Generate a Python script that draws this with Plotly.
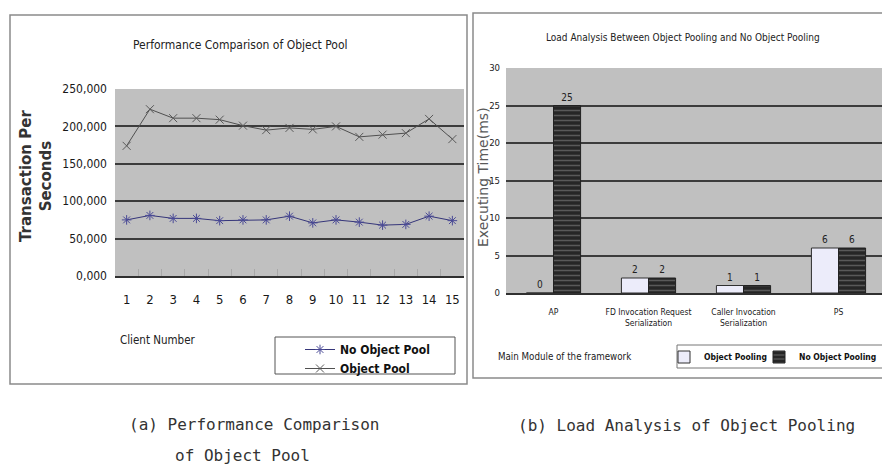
import plotly.graph_objects as go

W, H = 882, 467

# ---- data: chart (a) ----
clients = [str(i) for i in range(1, 16)]
no_object_pool = [75000, 81000, 77000, 77000, 74000, 75000, 75000, 80000, 71000, 75000, 72000, 68000, 69000, 80000, 74000]
object_pool = [174000, 223000, 211000, 211000, 209000, 201000, 195000, 198000, 196000, 200000, 186000, 189000, 191000, 210000, 183000]
y_tickvals = [0, 50000, 100000, 150000, 200000, 250000]
y_ticktext = ["0,000", "50,000", "100,000", "150,000", "200,000", "250,000"]

# ---- data: chart (b) ----
modules = ["AP", "FD Invocation Request<br>Serialization", "Caller Invocation<br>Serialization", "PS"]
object_pooling = [0, 2, 1, 6]
no_object_pooling = [25, 2, 1, 6]
y2_tickvals = [0, 5, 10, 15, 20, 25, 30]


def px(x):
    return x / W


def py(y):
    return 1 - y / H


NARROW = "Liberation Sans Narrow, DejaVu Sans Condensed, Liberation Sans, Arial, sans-serif"
WIDE_BOLD = "DejaVu Sans, Verdana, sans-serif"
CAPTION = "DejaVu Sans Mono, monospace"
PLOT_BG = "#c0c0c0"
GRID = "#3c3c3c"

fig = go.Figure()

fig.add_trace(go.Scatter(
    x=clients, y=no_object_pool, name="No Object Pool", mode="lines+markers",
    xaxis="x", yaxis="y", legend="legend",
    line=dict(color="#36367a", width=1),
    marker=dict(symbol="asterisk-open", size=8, color="#4a4a96",
                line=dict(color="#4a4a96", width=1)),
))
fig.add_trace(go.Scatter(
    x=clients, y=object_pool, name="Object Pool", mode="lines+markers",
    xaxis="x", yaxis="y", legend="legend",
    line=dict(color="#505050", width=1),
    marker=dict(symbol="x-thin-open", size=8, color="#5a5a5a",
                line=dict(color="#5a5a5a", width=1)),
))

fig.add_trace(go.Bar(
    x=modules, y=object_pooling, name="Object Pooling",
    xaxis="x2", yaxis="y2", legend="legend2",
    marker=dict(color="#ececfa", line=dict(color="#303030", width=1)),
    text=[str(v) for v in object_pooling], textposition="outside",
    textfont=dict(family=NARROW, size=10, color="#222"), cliponaxis=False,
))
fig.add_trace(go.Bar(
    x=modules, y=no_object_pooling, name="No Object Pooling",
    xaxis="x2", yaxis="y2", legend="legend3",
    marker=dict(color="#262626",
                pattern=dict(shape="-", fgcolor="#8c8c8c", bgcolor="#262626", size=5, solidity=0.3),
                line=dict(color="#222", width=1)),
    text=[str(v) for v in no_object_pooling], textposition="outside",
    textfont=dict(family=NARROW, size=10, color="#222"), cliponaxis=False,
))

band = 95.0

fig.update_layout(
    width=W, height=H,
    margin=dict(l=0, r=0, t=0, b=0, autoexpand=False),
    paper_bgcolor="white",
    plot_bgcolor=PLOT_BG,
    barmode="group", bargap=0.43, bargroupgap=0,
    xaxis=dict(domain=[px(115), px(464)], type="category", range=[-0.5, 14.5],
               showgrid=False, showline=True, linecolor="#303030", linewidth=1.5,
               ticks="inside", tickson="boundaries", ticklen=7, tickcolor="#a8a8a8",
               tickangle=0,
               tickfont=dict(family=NARROW, size=13, color="#181818"),
               ticklabelstandoff=11, anchor="y", fixedrange=True),
    yaxis=dict(domain=[py(276), py(89)], range=[0, 250000],
               tickvals=y_tickvals, ticktext=y_ticktext,
               showgrid=True, gridcolor=GRID, gridwidth=1.5, zeroline=False,
               showline=False, ticks="",
               tickfont=dict(family=NARROW, size=12, color="#181818"),
               ticklabelstandoff=7, anchor="x", fixedrange=True),
    xaxis2=dict(domain=[px(506), 1.0], type="category",
                range=[-0.5, -0.5 + (882 - 506) / band],
                showgrid=False, showline=True, linecolor="#303030", linewidth=1.5,
                ticks="", tickangle=0,
                tickfont=dict(family=NARROW, size=8.5, color="#202020"),
                ticklabelstandoff=10, anchor="y2", fixedrange=True),
    yaxis2=dict(domain=[py(293), py(68)], range=[0, 30],
                tickvals=y2_tickvals,
                showgrid=True, gridcolor=GRID, gridwidth=1.5, zeroline=False,
                showline=False, ticks="",
                tickfont=dict(family=NARROW, size=9.5, color="#202020"),
                ticklabelstandoff=5, anchor="x2", fixedrange=True),
    legend=dict(x=px(300), y=py(335), xanchor="left", yanchor="top",
                bgcolor="rgba(0,0,0,0)", borderwidth=0, tracegroupgap=0,
                font=dict(family=NARROW, size=12, color="#111", weight="bold"),
                itemwidth=30),
    legend2=dict(x=px(664), y=py(357), xanchor="left", yanchor="middle",
                 orientation="h", bgcolor="rgba(0,0,0,0)", borderwidth=0,
                 font=dict(family=NARROW, size=8.5, color="#111", weight="bold"),
                 itemwidth=30),
    legend3=dict(x=1.0, y=py(357), xanchor="right", yanchor="middle",
                 orientation="h", bgcolor="rgba(0,0,0,0)", borderwidth=0,
                 font=dict(family=NARROW, size=8.5, color="#111", weight="bold"),
                 itemwidth=30),
    showlegend=True,
)

shapes = [
    # panel borders
    dict(type="rect", xref="paper", yref="paper", x0=px(10), x1=px(467), y0=py(384), y1=py(15),
         line=dict(color="#8a8a8a", width=1.5), fillcolor="rgba(0,0,0,0)", layer="below"),
    dict(type="rect", xref="paper", yref="paper", x0=px(473), x1=px(900), y0=py(378), y1=py(13),
         line=dict(color="#8a8a8a", width=1.5), fillcolor="rgba(0,0,0,0)", layer="below"),
    # legend boxes
    dict(type="rect", xref="paper", yref="paper", x0=px(275), x1=px(455), y0=py(374), y1=py(337),
         line=dict(color="#555", width=1), fillcolor="white", layer="below"),
    dict(type="rect", xref="paper", yref="paper", x0=px(677), x1=px(900), y0=py(368), y1=py(345),
         line=dict(color="#777", width=1), fillcolor="white", layer="below"),
]
fig.update_layout(shapes=shapes)

ann = [
    dict(text="Performance Comparison of Object Pool", x=px(240), y=py(45),
         font=dict(family=NARROW, size=12, color="#222")),
    dict(text="Transaction Per<br>Seconds", x=px(36), y=py(176), textangle=-90,
         font=dict(family=WIDE_BOLD, size=15, color="#333", weight="bold")),
    dict(text="Client Number", x=px(118), y=py(340), xanchor="left",
         font=dict(family=NARROW, size=11.5, color="#222")),
    dict(text="Load Analysis Between Object Pooling and No Object Pooling", x=px(683), y=py(38),
         font=dict(family=NARROW, size=10, color="#222")),
    dict(text="Executing Time(ms)", x=px(483), y=py(177), textangle=-90,
         font=dict(family=WIDE_BOLD, size=14, color="#5a5a5a")),
    dict(text="Main Module of the framework", x=px(496), y=py(356), xanchor="left",
         font=dict(family=NARROW, size=9.7, color="#222")),
    dict(text="(a) Performance Comparison", x=px(254), y=py(424),
         font=dict(family=CAPTION, size=16, color="#333")),
    dict(text="of Object Pool", x=px(243), y=py(455),
         font=dict(family=CAPTION, size=16, color="#333")),
    dict(text="(b) Load Analysis of Object Pooling", x=px(686), y=py(425),
         font=dict(family=CAPTION, size=16, color="#333")),
]
for a in ann:
    a.update(xref="paper", yref="paper", showarrow=False)
    a.setdefault("xanchor", "center")
    a.setdefault("yanchor", "middle")
fig.update_layout(annotations=ann)

fig.write_html("out.html")
